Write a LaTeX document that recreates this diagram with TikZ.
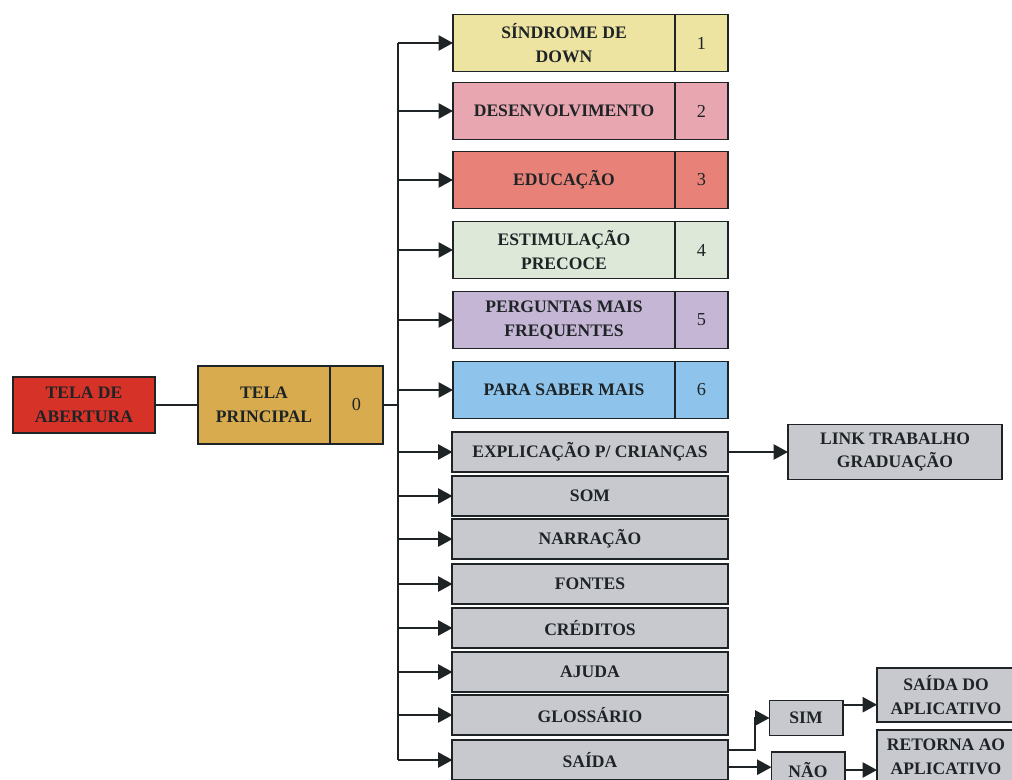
\documentclass[tikz,border=0pt]{standalone}
\usepackage{fontspec}
\setmainfont{Liberation Serif}
\usetikzlibrary{arrows.meta,positioning,calc}
\definecolor{abred}{RGB}{214,50,40}
\definecolor{gold}{RGB}{216,172,78}
\definecolor{cyellow}{RGB}{238,228,162}
\definecolor{cpink}{RGB}{232,166,176}
\definecolor{csalmon}{RGB}{232,130,120}
\definecolor{cgreen}{RGB}{222,232,216}
\definecolor{clilac}{RGB}{198,182,214}
\definecolor{cblue}{RGB}{142,196,236}
\definecolor{cgray}{RGB}{200,201,206}
\definecolor{ink}{RGB}{30,36,38}
\begin{document}
\begin{tikzpicture}[x=0.025cm,y=-0.025cm,
  every node/.style={font=\fontsize{12.5}{17}\selectfont\bfseries,align=center,text=ink},
  box/.style={draw=ink,line width=1.4pt,inner sep=1pt,outer sep=0pt},
  menubox/.style={box,minimum width=5.55cm,minimum height=1.425cm},
  numbox/.style={box,minimum width=1.325cm,minimum height=1.425cm,font=\fontsize{13}{15}\selectfont},
  graybox/.style={box,fill=cgray,minimum width=6.875cm,minimum height=1.0cm},
  line/.style={draw=ink,line width=1.4pt},
  arr/.style={line,-{Triangle[length=3.6mm,width=3.8mm]}}]
\useasboundingbox (0,0) rectangle (1012,780);

% entrada
\node[box,fill=abred,minimum width=3.55cm,minimum height=1.4cm] (abert) at (84,405) {TELA DE\\ABERTURA};
\node[box,fill=gold,minimum width=3.3cm,minimum height=1.95cm] (princ) at (264,405) {TELA\\PRINCIPAL};
\node[numbox,fill=gold,minimum height=1.95cm,right=0pt of princ] (pnum) {0};
\coordinate (tk) at (398,405);

% telas numeradas
\node[menubox,fill=cyellow] (s1) at (564,43) {SÍNDROME DE\\DOWN};
\node[numbox,fill=cyellow,right=0pt of s1] (n1) {1};
\node[menubox,fill=cpink] (s2) at (564,111) {DESENVOLVIMENTO};
\node[numbox,fill=cpink,right=0pt of s2] (n2) {2};
\node[menubox,fill=csalmon] (s3) at (564,180) {EDUCAÇÃO};
\node[numbox,fill=csalmon,right=0pt of s3] (n3) {3};
\node[menubox,fill=cgreen] (s4) at (564,250) {ESTIMULAÇÃO\\PRECOCE};
\node[numbox,fill=cgreen,right=0pt of s4] (n4) {4};
\node[menubox,fill=clilac] (s5) at (564,320) {PERGUNTAS MAIS\\FREQUENTES};
\node[numbox,fill=clilac,right=0pt of s5] (n5) {5};
\node[menubox,fill=cblue] (s6) at (564,390) {PARA SABER MAIS};
\node[numbox,fill=cblue,right=0pt of s6] (n6) {6};

% telas cinzas
\node[graybox] (expl) at (590,452) {EXPLICAÇÃO P/ CRIANÇAS};
\node[graybox] (som) at (590,496) {SOM};
\node[graybox] (narr) at (590,539) {NARRAÇÃO};
\node[graybox] (font) at (590,584) {FONTES};
\node[graybox] (cred) at (590,628) {CRÉDITOS};
\node[graybox] (ajud) at (590,672) {AJUDA};
\node[graybox] (glos) at (590,715) {GLOSSÁRIO};
\node[graybox] (sai) at (590,760) {SAÍDA};

% ramos a direita
\node[box,fill=cgray,minimum width=5.35cm,minimum height=1.375cm] (link) at (895,452) {LINK TRABALHO\\GRADUAÇÃO};
\node[box,fill=cgray,minimum width=1.825cm,minimum height=0.875cm] (sim) at (806,718) {SIM};
\node[box,fill=cgray,minimum width=1.825cm,minimum height=0.9cm] (nao) at (808,770) {NÃO};
\node[box,fill=cgray,minimum width=3.45cm,minimum height=1.35cm] (sdo) at (946,695) {SAÍDA DO\\APLICATIVO};
\node[box,fill=cgray,minimum width=3.45cm,minimum height=1.35cm] (ret) at (946,757) {RETORNA AO\\APLICATIVO};

% conexoes
\draw[line] (abert.east) -- (abert.east-|princ.west);
\draw[line] (pnum.east) -- (tk);
\draw[line] (tk|-s1.west) -- (tk|-sai.west);
\foreach \n in {s1,s2,s3,s4,s5,s6,expl,som,narr,font,cred,ajud,glos,sai}
  \draw[arr] (tk|-\n.west) -- (\n.west);
\draw[arr] (expl.east) -- (link.west);
\draw[arr] (sai.4) -| (755,718) -- (sim.west);
\draw[arr] (sai.-3) -- (sai.-3-|nao.west);
\draw[arr] (sim.20) -- (sim.20-|sdo.west);
\draw[arr] (nao.east) -- (nao.east-|ret.west);
\end{tikzpicture}
\end{document}
